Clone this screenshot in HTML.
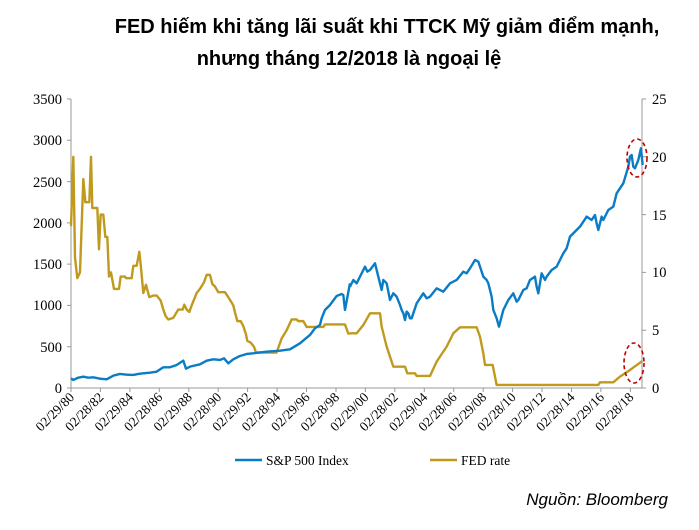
<!DOCTYPE html>
<html><head><meta charset="utf-8"><style>
body{margin:0;background:#fff;width:699px;height:530px;overflow:hidden}
svg{display:block}
.t{font-family:"Liberation Sans","Noto Sans CJK SC",sans-serif;font-weight:bold;font-size:20px;fill:#000}
.a{font-family:"Liberation Serif",serif;font-size:14.5px;fill:#000}
.x{font-family:"Liberation Serif",serif;font-size:13.5px;fill:#000}
</style></head><body>
<svg width="699" height="530" xmlns="http://www.w3.org/2000/svg">
<text class="t" x="387" y="33" text-anchor="middle">FED hiếm khi tăng lãi suất khi TTCK Mỹ giảm điểm mạnh,</text>
<text class="t" x="349" y="65" text-anchor="middle">nhưng tháng 12/2018 là ngoại lệ</text>
<g stroke="#999" stroke-width="1" fill="none">
<line x1="71" y1="99" x2="71" y2="388"/><line x1="642" y1="99" x2="642" y2="388"/>
<line x1="71" y1="388" x2="642" y2="388"/>
<path d="M67 99H71M67 140.3H71M67 181.6H71M67 222.9H71M67 264.1H71M67 305.4H71M67 346.7H71M67 388H71"/>
<path d="M642 99H646M642 156.8H646M642 214.6H646M642 272.4H646M642 330.2H646M642 388H646"/>
<path d="M71 388V392M100.4 388V392M129.9 388V392M159.3 388V392M188.8 388V392M218.2 388V392M247.6 388V392M277.1 388V392M306.5 388V392M336 388V392M365.4 388V392M394.8 388V392M424.3 388V392M453.7 388V392M483.2 388V392M512.6 388V392M542 388V392M571.5 388V392M600.9 388V392M630.4 388V392"/>
</g>
<g class="a" text-anchor="end">
<text x="62" y="104">3500</text><text x="62" y="145">3000</text><text x="62" y="187">2500</text><text x="62" y="228">2000</text><text x="62" y="269">1500</text><text x="62" y="310">1000</text><text x="62" y="352">500</text><text x="62" y="393">0</text>
</g>
<g class="a">
<text x="652" y="104">25</text><text x="652" y="162">20</text><text x="652" y="220">15</text><text x="652" y="277">10</text><text x="652" y="335">5</text><text x="652" y="393">0</text>
</g>
<g class="x" text-anchor="end">
<text transform="translate(75,398) rotate(-45)">02/29/80</text>
<text transform="translate(104.4,398) rotate(-45)">02/28/82</text>
<text transform="translate(133.9,398) rotate(-45)">02/29/84</text>
<text transform="translate(163.3,398) rotate(-45)">02/28/86</text>
<text transform="translate(192.8,398) rotate(-45)">02/29/88</text>
<text transform="translate(222.2,398) rotate(-45)">02/28/90</text>
<text transform="translate(251.6,398) rotate(-45)">02/29/92</text>
<text transform="translate(281.1,398) rotate(-45)">02/28/94</text>
<text transform="translate(310.5,398) rotate(-45)">02/29/96</text>
<text transform="translate(340,398) rotate(-45)">02/28/98</text>
<text transform="translate(369.4,398) rotate(-45)">02/29/00</text>
<text transform="translate(398.8,398) rotate(-45)">02/28/02</text>
<text transform="translate(428.3,398) rotate(-45)">02/29/04</text>
<text transform="translate(457.7,398) rotate(-45)">02/28/06</text>
<text transform="translate(487.2,398) rotate(-45)">02/29/08</text>
<text transform="translate(516.6,398) rotate(-45)">02/28/10</text>
<text transform="translate(546,398) rotate(-45)">02/29/12</text>
<text transform="translate(575.5,398) rotate(-45)">02/28/14</text>
<text transform="translate(604.9,398) rotate(-45)">02/29/16</text>
<text transform="translate(634.4,398) rotate(-45)">02/28/18</text>
</g>
<g transform="matrix(0.3333,0,0,-0.08257,0,388)" fill="none" stroke="#C09A1E" stroke-width="2.4" stroke-linejoin="round">
<polyline vector-effect="non-scaling-stroke" points="213,1960 220,2800 225,1580 232,1330 240,1400 250,2530 256,2250 268,2250 273,2800 277,2180 292,2180 297,1680 302,2100 310,2100 316,1830 322,1830 327,1350 333,1400 342,1200 357,1200 362,1350 375,1350 378,1330 395,1330 400,1480 410,1480 418,1650 422,1500 430,1150 438,1250 448,1100 460,1120 470,1120 482,1060 490,950 497,870 505,830 520,850 535,950 548,950 553,1010 560,950 568,920 575,1000 590,1150 600,1200 612,1280 620,1370 630,1370 637,1260 645,1230 655,1160 675,1160 685,1100 700,1000 706,900 712,810 722,810 730,750 738,650 742,570 752,550 762,500 768,430 830,430 845,600 860,700 875,830 890,830 895,810 910,810 920,740 970,740 975,770 1035,770 1045,660 1050,661"/>
</g>
<g transform="translate(350,80) scale(0.3333)" fill="none" stroke-linejoin="round">
<polyline vector-effect="non-scaling-stroke" stroke="#C09A1E" stroke-width="2.4" points="0,760 20,760 40,735 60,700 90,700 95,740 110,800 130,860 165,860 172,880 195,880 200,888 240,888 260,845 290,800 310,760 330,742 380,742 390,770 400,820 405,855 428,855 440,915 745,915 750,907 790,907 810,890 840,870 877,843"/>
<polyline vector-effect="non-scaling-stroke" stroke="#0A7CC6" stroke-width="2.4" points="0,620 10,600 20,610 30,590 40,570 45,560 52,575 60,570 75,550 85,590 95,630 100,600 110,610 120,660 130,640 140,650 150,675 155,690 160,700 165,720 170,695 175,700 180,715 185,715 200,670 220,640 230,655 240,650 260,625 280,635 300,610 320,600 340,575 350,580 360,565 375,540 385,545 400,590 410,600 415,610 425,650 430,690 440,715 447,740 460,690 475,660 490,640 500,665 505,660 520,630 530,625 540,600 555,590 560,620 565,640 575,580 585,600 590,590 605,570 620,560 630,540 640,520 650,505 660,470 675,455 690,440 700,425 710,410 725,420 735,405 740,430 745,450 755,410 760,420 775,390 790,380 800,340 820,310 835,260 840,230 845,225 850,260 855,265 865,240 873,205 878,255"/>
</g>
<g transform="translate(0,80) scale(0.3333)" fill="none">
<polyline vector-effect="non-scaling-stroke" stroke="#0A7CC6" stroke-width="2.4" stroke-linejoin="round" points="213,895 220,900 235,893 250,890 265,893 280,892 300,896 320,898 340,887 360,882 380,884 400,885 415,882 430,880 450,878 470,875 490,862 510,862 530,855 550,842 558,866 570,860 600,853 620,842 640,838 660,840 672,835 685,850 700,838 720,828 740,822 760,820 800,815 840,812 870,808 900,790 930,765 945,745 960,735 965,715 975,690 990,675 1010,648 1025,642 1030,645 1035,690 1050,610"/>
</g>
<ellipse cx="637" cy="158" rx="10" ry="19" fill="none" stroke="#C00000" stroke-width="1.6" stroke-dasharray="4,3"/>
<ellipse cx="634" cy="363" rx="10" ry="20" fill="none" stroke="#C00000" stroke-width="1.6" stroke-dasharray="4,3"/>
<line x1="235" y1="460" x2="262" y2="460" stroke="#0A7CC6" stroke-width="2.5"/>
<text class="x" x="266" y="465">S&amp;P 500 Index</text>
<line x1="430" y1="460" x2="457" y2="460" stroke="#C09A1E" stroke-width="2.5"/>
<text class="x" x="461" y="465">FED rate</text>
<text x="668" y="505" text-anchor="end" style="font-family:'Liberation Sans',sans-serif;font-style:italic;font-size:17px">Nguồn: Bloomberg</text>
</svg>
</body></html>
